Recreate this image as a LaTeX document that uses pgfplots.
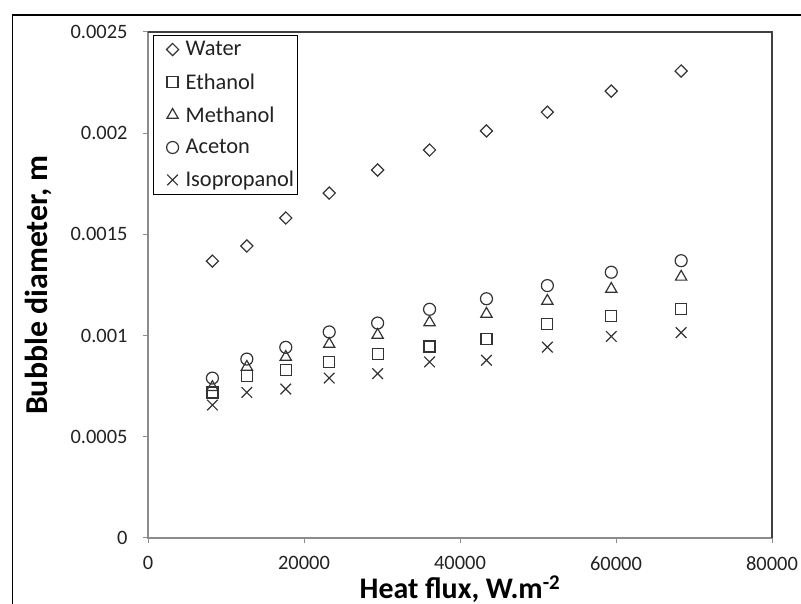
\documentclass[border=0pt]{standalone}
\usepackage{pgfplots}
\pgfplotsset{compat=1.18}
\usepackage{fontspec}
\setmainfont{Carlito}
\definecolor{axgray}{HTML}{8C8C8C}
\definecolor{txt}{HTML}{222222}
\definecolor{mk}{HTML}{333333}
\begin{document}
\begin{tikzpicture}[x=1bp,y=1bp]
\useasboundingbox (0,0) rectangle (801,604);
\draw[line width=1.3bp,black] (12.5,-5) -- (12.5,589) -- (806,589);
\begin{axis}[
  at={(148bp,66bp)}, anchor=south west,
  scale only axis, width=624bp, height=506bp,
  xmin=0, xmax=80000, ymin=0, ymax=0.0025,
  scaled ticks=false,
  axis line style={draw=none},
  xtick={0,20000,40000,60000,80000},
  xticklabels={0,20000,40000,60000,80000},
  ytick={0,0.0005,0.001,0.0015,0.002,0.0025},
  yticklabels={0,0.0005,0.001,0.0015,0.002,0.0025},
  xtick pos=bottom, ytick pos=left,
  tick align=outside, major tick length=5bp,
  tick style={axgray, line width=1bp},
  ticklabel style={font=\fontsize{20.5}{24}\selectfont, text=txt},
  xticklabel style={yshift=-10bp},
  yticklabel style={xshift=-12bp},
  xlabel={\textbf{Heat flux, W.m\textsuperscript{-2}}},
  ylabel={\textbf{Bubble diameter, m}},
  label style={font=\fontsize{30}{34}\selectfont, text=black},
  xlabel style={at={(axis description cs:0.5,-0.1190)}, anchor=base},
  ylabel style={at={(axis description cs:-0.1763,0.5)}, anchor=center, font=\fontsize{32}{36}\selectfont\bfseries},
  legend style={at={(rel axis cs:0.008,0.994)}, anchor=north west,
    draw=black, line width=1.2bp, font=\fontsize{22.5}{26}\selectfont,
    row sep=12bp, inner xsep=1bp, inner ysep=4bp, text=txt},
  legend cell align=left,
  legend image code/.code={\path[draw=none,fill=none] (0bp,-4bp) rectangle (29bp,4bp); \draw[#1] plot coordinates {(18bp,0bp)};},
  every axis plot/.append style={only marks, line width=1.2bp, mk},
  clip=false,
  after end axis/.code={
    \draw[axgray, line width=1.2bp] (rel axis cs:0,1) -- (rel axis cs:0,0) -- (rel axis cs:1,0);
    \draw[black!75, line width=1.3bp] (rel axis cs:0,1) -- (rel axis cs:1,1) -- (rel axis cs:1,0);
  },
]
\addplot[mark=square, mark size=4.3bp, mark options={rotate=45}] coordinates {
(8256,0.001368) (12672,0.001443) (17664,0.001581) (23232,0.001704) (29440,0.001818)
(36096,0.001917) (43392,0.002011) (51200,0.002104) (59392,0.002208) (68352,0.002307)};
\addlegendentry{Water}
\addplot[mark=square, mark size=5.5bp] coordinates {
(8256,0.000719) (12672,0.000800) (17664,0.000830) (23232,0.000870) (29440,0.000909)
(36096,0.000946) (43392,0.000985) (51200,0.001059) (59392,0.001097) (68352,0.001132)};
\addlegendentry{Ethanol}
\addplot[mark=triangle, mark size=6.5bp] coordinates {
(8256,0.000745) (12672,0.000845) (17664,0.000894) (23232,0.000958) (29440,0.001003)
(36096,0.001065) (43392,0.001107) (51200,0.001171) (59392,0.001230) (68352,0.001290)};
\addlegendentry{Methanol}
\addplot[mark=o, mark size=6bp] coordinates {
(8256,0.000790) (12672,0.000884) (17664,0.000942) (23232,0.001018) (29440,0.001062)
(36096,0.001130) (43392,0.001182) (51200,0.001247) (59392,0.001313) (68352,0.001370)};
\addlegendentry{Aceton}
\addplot[mark=x, mark size=7.5bp] coordinates {
(8256,0.000657) (12672,0.000719) (17664,0.000736) (23232,0.000790) (29440,0.000812)
(36096,0.000870) (43392,0.000878) (51200,0.000943) (59392,0.000996) (68352,0.001015)};
\addlegendentry{Isopropanol}
\end{axis}
\end{tikzpicture}
\end{document}
